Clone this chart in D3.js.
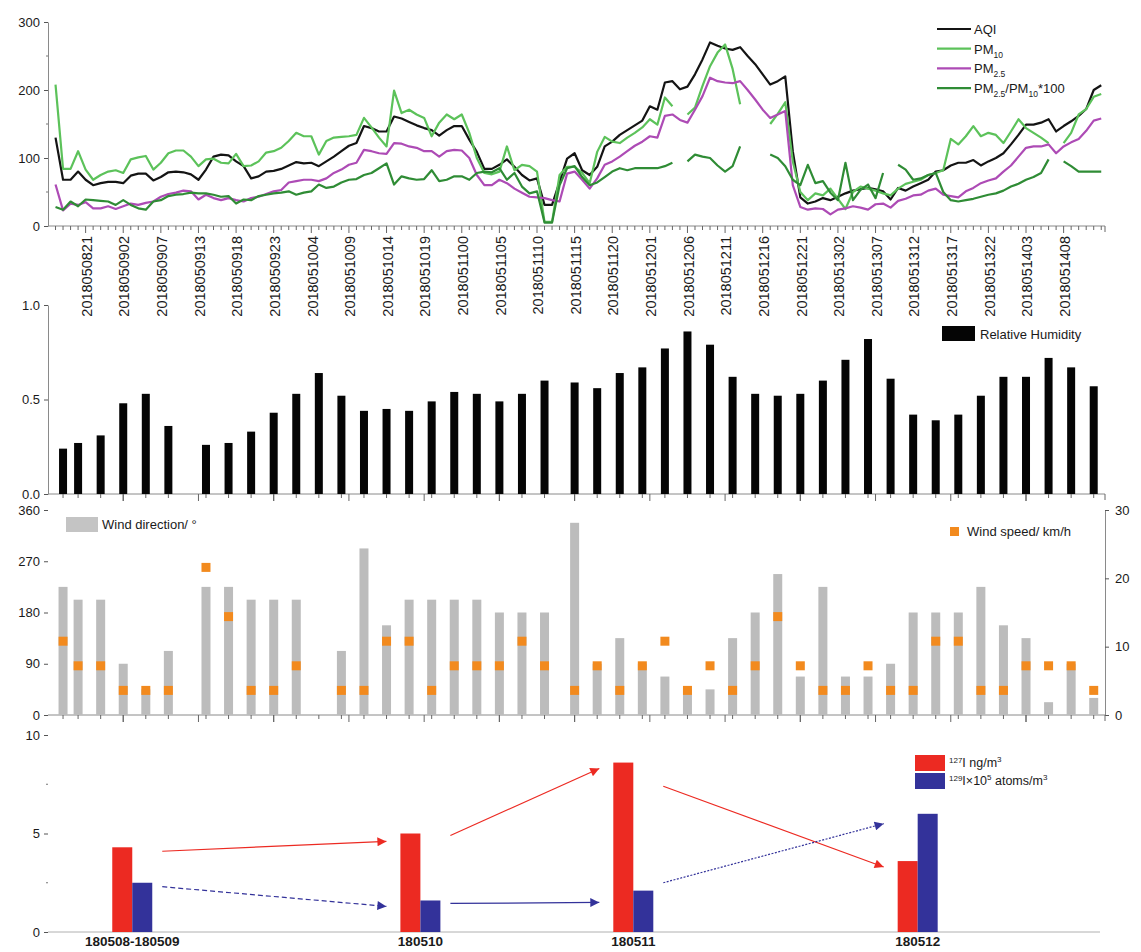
<!DOCTYPE html>
<html>
<head>
<meta charset="utf-8">
<script src="https://cdn.jsdelivr.net/npm/d3@7"></script>
<style>
  body { margin: 0; background: #fff; }
  svg text { font-family: "Liberation Sans", Arial, Helvetica, sans-serif; fill: #1a1a1a; }
</style>
</head>
<body>
<svg id="chart" width="1141" height="952"></svg>
<script>
// ---------------- hourly air-quality records (record index 0..139) ----------------
const dateLabels = ["2018050821","2018050902","2018050907","2018050913","2018050918","2018050923",
  "2018051004","2018051009","2018051014","2018051019","2018051100","2018051105","2018051110",
  "2018051115","2018051120","2018051201","2018051206","2018051211","2018051216","2018051221",
  "2018051302","2018051307","2018051312","2018051317","2018051322","2018051403","2018051408"];
const firstLabelRecord = 4;   // record index of the first labelled hour
const labelEvery = 5;         // one label every 5 records

const aqi = [130,68,68,80,68,60,63,65,65,63,
  74,77,77,67,72,79,80,79,76,68,
  83,102,105,104,95,88,70,73,80,81,
  84,89,94,92,93,88,95,102,110,118,
  122,147,144,139,139,161,158,153,148,144,
  141,133,141,147,147,127,109,84,84,90,
  98,87,75,67,70,31,31,65,99,107,
  82,75,87,117,124,134,141,148,155,176,
  171,211,213,201,205,223,245,270,265,261,
  259,263,250,238,223,208,213,220,110,42,
  33,36,41,38,43,48,52,54,56,54,
  51,39,56,52,58,63,68,80,82,89,
  93,93,97,89,95,100,107,120,134,149,
  149,152,157,139,147,154,162,172,200,207];

const pm10 = [208,84,84,110,83,68,75,80,82,78,
  98,101,103,83,93,107,111,111,102,88,
  98,99,93,92,106,88,89,95,108,110,
  115,125,137,132,132,105,125,130,131,132,
  134,159,145,130,117,199,166,171,164,159,
  132,152,164,157,164,137,100,78,76,80,
  117,82,90,88,80,6,6,75,87,87,
  78,63,109,131,124,122,130,137,145,157,
  149,189,176,null,164,174,206,235,255,267,
  231,179,null,null,null,150,165,182,95,50,
  38,48,45,55,40,25,50,58,55,52,
  48,45,55,62,65,68,75,78,82,128,
  120,132,147,132,137,134,122,139,157,144,
  137,130,122,null,122,137,164,172,190,194];

const pm25 = [61,23,33,31,35,26,26,29,25,29,
  33,31,34,36,43,47,49,52,51,39,
  46,41,38,41,38,36,41,43,47,51,
  53,64,66,68,68,66,70,78,83,90,
  93,112,110,107,106,122,121,117,115,110,
  110,102,110,112,111,100,75,60,60,68,
  63,55,49,43,42,41,38,36,77,80,
  68,55,70,90,95,102,110,118,124,132,
  130,162,164,156,152,171,191,218,213,211,
  210,213,200,186,171,159,164,169,60,28,
  24,26,25,17,24,26,29,27,24,32,
  33,27,37,40,45,46,52,55,46,44,
  42,51,56,63,67,70,80,89,102,115,
  117,117,120,107,117,123,128,140,155,158];

const pmRatio = [28,24,36,29,39,38,37,36,31,38,
  31,26,24,36,38,44,46,47,49,48,
  48,46,43,44,33,39,38,44,46,48,
  49,51,46,49,51,61,56,58,64,68,
  69,75,78,85,92,61,73,70,68,69,
  82,66,68,73,73,68,78,80,79,85,
  68,78,58,48,51,5,5,60,85,88,
  72,60,64,72,80,85,82,85,85,85,
  85,88,93,null,95,105,102,100,89,80,
  88,117,null,null,null,105,100,88,68,60,
  90,63,66,49,38,93,38,53,61,41,
  78,null,90,83,68,70,75,78,50,38,
  36,38,40,43,46,48,52,58,62,68,
  72,78,98,null,95,88,80,80,80,80];

// ---------------- 3-hourly weather observations ----------------
const weatherRecord = [1,3,6,9,12,15,20,23,26,29,32,35,38,41,44,47,50,53,56,59,62,65,
  69,72,75,78,81,84,87,90,93,96,99,102,105,108,111,114,117,120,123,126,129,132,135,138];
const humidity = [0.24,0.27,0.31,0.48,0.53,0.36,0.26,0.27,0.33,0.43,0.53,0.64,0.52,0.44,0.45,0.44,0.49,0.54,0.53,0.49,0.53,0.60,
  0.59,0.56,0.64,0.67,0.77,0.86,0.79,0.62,0.53,0.52,0.53,0.60,0.71,0.82,0.61,0.42,0.39,0.42,0.52,0.62,0.62,0.72,0.67,0.57];
const windDir = [225,202.5,202.5,90,45,112.5,225,225,202.5,202.5,202.5,null,112.5,292.5,157.5,202.5,202.5,202.5,202.5,180,180,180,
  337.5,90,135,90,67.5,45,45,135,180,247.5,67.5,225,67.5,67.5,90,180,180,180,225,157.5,135,22.5,90,30];
const windSpeed = [10.8,7.2,7.2,3.6,3.6,3.6,21.6,14.4,3.6,3.6,7.2,null,3.6,3.6,10.8,10.8,3.6,7.2,7.2,7.2,10.8,7.2,
  3.6,7.2,3.6,7.2,10.8,3.6,7.2,3.6,7.2,14.4,7.2,3.6,3.6,7.2,3.6,3.6,10.8,10.8,3.6,3.6,7.2,7.2,7.2,3.6];

// ---------------- iodine isotope samples ----------------
const sampleNames = ["180508-180509","180510","180511","180512"];
const sampleCentreRecord = [10.2, 48.5, 76.8, 114.6];
const iodine127 = [4.3, 5.0, 8.6, 3.6];      // ng/m3
const iodine129 = [2.5, 1.6, 2.1, 6.0];      // x10^5 atoms/m3
// trend arrows between consecutive samples: [start value, end value]
const trend127 = [[4.1, 4.6], [4.9, 8.3], [7.4, 3.3]];
const trend129 = [[2.3, 1.3], [1.45, 1.5], [2.5, 5.5]];

// ---------------- drawing ----------------
const svg = d3.select("#chart");
const AXIS = "#8a8a8a";
const x = d3.scaleLinear().domain([-1, 139.5]).range([48, 1105]);
const xL = 48, xR = 1105;

const yTop = d3.scaleLinear().domain([0, 300]).range([226, 22]);
const yHum = d3.scaleLinear().domain([0, 1]).range([494, 305]);
const yDir = d3.scaleLinear().domain([0, 360]).range([715, 510]);
const ySpd = d3.scaleLinear().domain([0, 30]).range([715, 510]);
const yIod = d3.scaleLinear().domain([0, 10]).range([932, 735]);

function styleAxis(g, keepDomain) {
  g.selectAll("path.domain").attr("stroke", AXIS).attr("stroke-width", 1)
    .style("display", keepDomain ? null : "none");
  g.selectAll(".tick line").attr("stroke", "#555");
  g.selectAll(".tick text").attr("font-size", 13)
    .attr("font-family", '"Liberation Sans", Arial, sans-serif').attr("fill", "#1a1a1a");
}

function leftAxis(scale, values, fmt, keepDomain, minor) {
  const g = svg.append("g").attr("transform", `translate(${xL},0)`)
    .call(d3.axisLeft(scale).tickValues(values).tickFormat(fmt).tickSize(4).tickPadding(4).tickSizeOuter(0));
  styleAxis(g, keepDomain);
  if (minor) {
    svg.append("g").selectAll("line").data(minor).join("line")
      .attr("x1", xL - 2).attr("x2", xL).attr("y1", d => scale(d)).attr("y2", d => scale(d))
      .attr("stroke", "#777");
  }
}

const labelRecords = dateLabels.map((d, k) => firstLabelRecord + k * labelEvery);
const labelSet = new Set(labelRecords);

function timeAxis(yPos, tickRecords, longSet) {
  const g = svg.append("g");
  g.append("line").attr("x1", xL).attr("x2", xR).attr("y1", yPos).attr("y2", yPos)
    .attr("stroke", AXIS).attr("stroke-width", 1);
  g.selectAll("line.t").data(tickRecords).join("line").attr("class", "t")
    .attr("x1", d => x(d)).attr("x2", d => x(d))
    .attr("y1", yPos).attr("y2", d => yPos + (longSet.has(d) ? 7 : 4))
    .attr("stroke", "#666").attr("stroke-width", 1);
  g.append("line").attr("x1", xR).attr("x2", xR).attr("y1", yPos).attr("y2", yPos + 6)
    .attr("stroke", "#666");
}

// ===== Panel 1: AQI / PM lines =====
leftAxis(yTop, [0, 100, 200, 300], d3.format("d"), true, [50, 150, 250]);
timeAxis(yTop(0), d3.range(0, 140), labelSet);

svg.append("g").selectAll("text").data(dateLabels).join("text")
  .attr("transform", (d, k) => `translate(${x(labelRecords[k]) + 1},236) rotate(-90)`)
  .attr("text-anchor", "end").attr("dy", "0.36em").attr("font-size", 14.5)
  .text(d => d);

const lineGen = d3.line().defined(d => d.v != null).x(d => x(d.i)).y(d => yTop(d.v));
const series = [
  { key: "aqi",   values: aqi,     color: "#141414" },
  { key: "pm10",  values: pm10,    color: "#5cc25a" },
  { key: "pm25",  values: pm25,    color: "#ad4bb5" },
  { key: "ratio", values: pmRatio, color: "#2f8c35" }
];
svg.append("g").selectAll("path").data(series).join("path")
  .attr("fill", "none").attr("stroke", s => s.color).attr("stroke-width", 2.2)
  .attr("stroke-linejoin", "round")
  .attr("d", s => lineGen(s.values.map((v, i) => ({ i, v }))));

// legend
const legTop = svg.append("g");
const legRows = [
  { color: "#141414", parts: [["AQI", 0]] },
  { color: "#5cc25a", parts: [["PM", 0], ["10", 1]] },
  { color: "#ad4bb5", parts: [["PM", 0], ["2.5", 1]] },
  { color: "#2f8c35", parts: [["PM", 0], ["2.5", 1], ["/PM", 0], ["10", 1], ["*100", 0]] }
];
legRows.forEach((r, k) => {
  const yy = 29 + k * 19.7;
  legTop.append("line").attr("x1", 937).attr("x2", 971).attr("y1", yy).attr("y2", yy)
    .attr("stroke", r.color).attr("stroke-width", 2.2);
  const t = legTop.append("text").attr("x", 974).attr("y", yy + 5).attr("font-size", 13);
  let shifted = false;
  r.parts.forEach(([s, sub]) => {
    const ts = t.append("tspan").text(s);
    if (sub && !shifted) { ts.attr("dy", 4).attr("font-size", 8.5); shifted = true; }
    else if (!sub && shifted) { ts.attr("dy", -4); shifted = false; }
  });
});

// ===== Panel 2: relative humidity =====
leftAxis(yHum, [0, 0.5, 1.0], d3.format(".1f"), true, null);
const weatherLong = new Set([9, 19, 29, 39, 49, 59, 69, 79, 89, 99, 109, 119, 129]);
timeAxis(yHum(0), weatherRecord.concat([...weatherLong]), weatherLong);

svg.append("g").selectAll("rect").data(humidity).join("rect")
  .attr("x", (d, k) => x(weatherRecord[k]) - 4).attr("width", 8)
  .attr("y", d => yHum(d)).attr("height", d => yHum(0) - yHum(d))
  .attr("fill", "#050505");

svg.append("rect").attr("x", 942).attr("y", 326).attr("width", 33).attr("height", 15).attr("fill", "#050505");
svg.append("text").attr("x", 980).attr("y", 339).attr("font-size", 13).text("Relative Humidity");

// ===== Panel 3: wind =====
leftAxis(yDir, [0, 90, 180, 270, 360], d3.format("d"), false, null);
const gR = svg.append("g").attr("transform", `translate(${xR},0)`)
  .call(d3.axisRight(ySpd).tickValues([0, 10, 20, 30]).tickSize(4).tickPadding(6).tickSizeOuter(0));
styleAxis(gR, true);
timeAxis(yDir(0), weatherRecord.concat([...weatherLong]), weatherLong);

const dirPts = windDir.map((d, k) => ({ d, r: weatherRecord[k] })).filter(o => o.d != null);
svg.append("g").selectAll("rect").data(dirPts).join("rect")
  .attr("x", o => x(o.r) - 4.5).attr("width", 9)
  .attr("y", o => yDir(o.d)).attr("height", o => yDir(0) - yDir(o.d))
  .attr("fill", "#bcbcbc");
const spdPts = windSpeed.map((d, k) => ({ d, r: weatherRecord[k] })).filter(o => o.d != null);
svg.append("g").selectAll("rect").data(spdPts).join("rect")
  .attr("x", o => x(o.r) - 4.5).attr("width", 9)
  .attr("y", o => ySpd(o.d) - 4.5).attr("height", 9)
  .attr("fill", "#f28a1e");

svg.append("rect").attr("x", 66).attr("y", 517).attr("width", 32).attr("height", 15).attr("fill", "#c4c4c4");
svg.append("text").attr("x", 102).attr("y", 529).attr("font-size", 13).text("Wind direction/ \u00b0");
svg.append("rect").attr("x", 950).attr("y", 527).attr("width", 9).attr("height", 9).attr("fill", "#f28a1e");
svg.append("text").attr("x", 967).attr("y", 536).attr("font-size", 13).text("Wind speed/ km/h");

// ===== Panel 4: iodine isotopes =====
leftAxis(yIod, [0, 5, 10], d3.format("d"), false, [2.5, 7.5]);
svg.append("line").attr("x1", xL).attr("x2", 1100).attr("y1", yIod(0)).attr("y2", yIod(0))
  .attr("stroke", "#b0b0b0");

const RED = "#ec2a22", BLUE = "#33329a";
const barW = 20;
svg.append("g").selectAll("rect").data(iodine127).join("rect")
  .attr("x", (d, k) => x(sampleCentreRecord[k]) - barW).attr("width", barW)
  .attr("y", d => yIod(d)).attr("height", d => yIod(0) - yIod(d)).attr("fill", RED);
svg.append("g").selectAll("rect").data(iodine129).join("rect")
  .attr("x", (d, k) => x(sampleCentreRecord[k])).attr("width", barW)
  .attr("y", d => yIod(d)).attr("height", d => yIod(0) - yIod(d)).attr("fill", BLUE);
svg.append("g").selectAll("text").data(sampleNames).join("text")
  .attr("x", (d, k) => x(sampleCentreRecord[k])).attr("y", 946)
  .attr("text-anchor", "middle").attr("font-size", 13.5).attr("font-weight", "bold")
  .attr("fill", "#222").text(d => d);

const defs = svg.append("defs");
[["headRed", RED], ["headBlue", BLUE]].forEach(([id, c]) => {
  defs.append("marker").attr("id", id).attr("viewBox", "0 0 10 10").attr("refX", 10).attr("refY", 5)
    .attr("markerWidth", 16).attr("markerHeight", 9).attr("markerUnits", "userSpaceOnUse")
    .attr("orient", "auto")
    .append("path").attr("d", "M0,0 L10,5 L0,10 Z").attr("fill", c);
});
function trendArrows(pairs, color, marker, dashes) {
  svg.append("g").selectAll("line").data(pairs).join("line")
    .attr("x1", (p, k) => x(sampleCentreRecord[k]) + barW + 10)
    .attr("x2", (p, k) => x(sampleCentreRecord[k + 1]) - barW - 14)
    .attr("y1", p => yIod(p[0])).attr("y2", p => yIod(p[1]))
    .attr("stroke", color).attr("stroke-width", 1.2)
    .attr("stroke-dasharray", (p, k) => dashes[k])
    .attr("marker-end", `url(#${marker})`);
}
trendArrows(trend127, RED, "headRed", [null, null, null]);
trendArrows(trend129, BLUE, "headBlue", ["5,3", null, "2,1.5"]);

svg.append("rect").attr("x", 915).attr("y", 755).attr("width", 30).attr("height", 16).attr("fill", RED);
svg.append("rect").attr("x", 915).attr("y", 773).attr("width", 30).attr("height", 16).attr("fill", BLUE);
const l1 = svg.append("text").attr("x", 949).attr("y", 767).attr("font-size", 12.5);
l1.append("tspan").attr("font-size", 8).attr("dy", -4).text("127");
l1.append("tspan").attr("dy", 4).text("I ng/m");
l1.append("tspan").attr("font-size", 8).attr("dy", -5).text("3");
const l2 = svg.append("text").attr("x", 949).attr("y", 785).attr("font-size", 12.5);
l2.append("tspan").attr("font-size", 8).attr("dy", -4).text("129");
l2.append("tspan").attr("dy", 4).text("I\u00d710");
l2.append("tspan").attr("font-size", 8).attr("dy", -5).text("5");
l2.append("tspan").attr("dy", 5).text(" atoms/m");
l2.append("tspan").attr("font-size", 8).attr("dy", -5).text("3");
</script>
</body>
</html>
